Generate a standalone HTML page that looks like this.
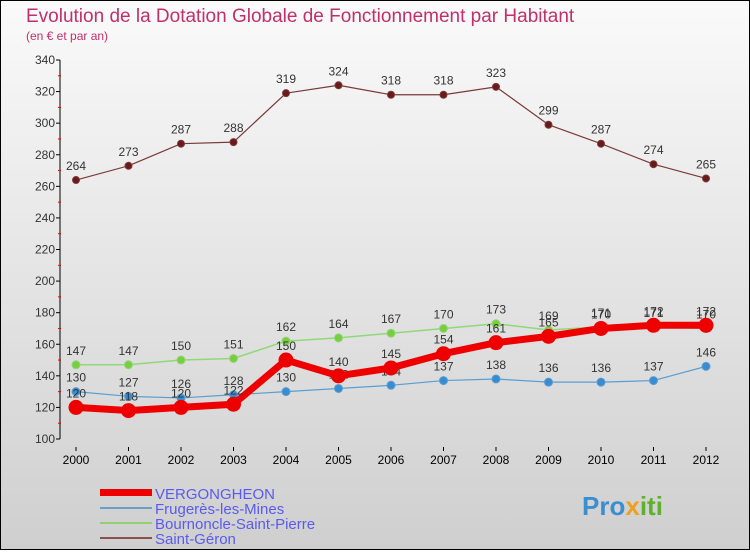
<!DOCTYPE html>
<html><head><meta charset="utf-8"><style>
html,body{margin:0;padding:0;}
body{width:750px;height:550px;overflow:hidden;font-family:"Liberation Sans",sans-serif;}
</style></head><body>
<svg id="chart" width="750" height="550" xmlns="http://www.w3.org/2000/svg">
<defs><linearGradient id="bg" x1="0" y1="0" x2="0" y2="1"><stop offset="0" stop-color="#fafafa"/><stop offset="1" stop-color="#cfcfcf"/></linearGradient></defs>
<rect x="0.5" y="0.5" width="749" height="549" fill="url(#bg)" stroke="#000"/>
<text x="26" y="22" font-size="19" fill="#c0306a">Evolution de la Dotation Globale de Fonctionnement par Habitant</text>
<text x="26" y="40" font-size="12" fill="#c0306a">(en € et par an)</text>
<g id="axes"></g><g id="series"></g>
<g font-size="15" fill="#5a5af0">
<rect x="100" y="489" width="52" height="7" fill="#e00"/>
<text x="155" y="499">VERGONGHEON</text>
<rect x="100" y="507" width="52" height="2" fill="#6aa0c8"/>
<text x="155" y="514">Frugerès-les-Mines</text>
<rect x="100" y="522" width="52" height="2" fill="#8fd070"/>
<text x="155" y="529">Bournoncle-Saint-Pierre</text>
<rect x="100" y="537" width="52" height="2" fill="#8a5050"/>
<text x="155" y="544">Saint-Géron</text>
</g>
<text x="582" y="515" font-size="26" font-weight="bold" fill="#3a8fd0">Pro<tspan fill="#f0a020">x</tspan><tspan fill="#60b030">iti</tspan></text>
</svg>
<script>
const years=[2000,2001,2002,2003,2004,2005,2006,2007,2008,2009,2010,2011,2012];
const vergongheon=[120,118,120,122,150,140,145,154,161,165,170,172,172];
const frugeres=[130,127,126,128,130,132,134,137,138,136,136,137,146];
const bournoncle=[147,147,150,151,162,164,167,170,173,169,171,171,170];
const saintGeron=[264,273,287,288,319,324,318,318,323,299,287,274,265];
const yTicks=[100,120,140,160,180,200,220,240,260,280,300,320,340];
const NS="http://www.w3.org/2000/svg";
const xs=i=>76+i*52.5;
const ys=v=>439-(v-100)*(379/240);
function mk(t,a,p){const e=document.createElementNS(NS,t);for(const k in a)e.setAttribute(k,a[k]);p.appendChild(e);return e;}
const ax=document.getElementById('axes');
let e=mk('line',{x1:60,y1:ys(340),x2:60,y2:ys(100),stroke:'#000'},ax);


yTicks.forEach(v=>{
 let t=mk('line',{x1:56,x2:60,y1:ys(v),y2:ys(v),stroke:'#000'},ax);
 
 
 if(v<340){let m=mk('line',{x1:58,x2:61,y1:ys(v+10),y2:ys(v+10),stroke:'#e00'},ax);
 
 }
 let l=mk('text',{x:55,y:ys(v)+4,'text-anchor':'end','font-size':12,fill:'#333'},ax);l.textContent=v;
 
 
});
years.forEach((y,i)=>{
 let t=mk('line',{x1:xs(i),x2:xs(i),y1:447,y2:451,stroke:'#000'},ax);
 
 
 let l=mk('text',{x:xs(i),y:464,'text-anchor':'middle','font-size':12,fill:'#000'},ax);l.textContent=y;
 
 
});
const sg=document.getElementById('series');
function draw(name,data,color,w,r,dot){
 const g=mk('g',{},sg);
 
 
 const pl=mk('polyline',{points:data.map((v,i)=>xs(i)+','+ys(v)).join(' '),fill:'none',stroke:color,'stroke-width':w,'stroke-linejoin':'round'},g);
 
 
 data.forEach((v,i)=>{
  const c=mk('circle',{cx:xs(i),cy:ys(v),r:r,fill:dot,stroke:color,'stroke-width':1},g);
  
  
  const t=mk('text',{x:xs(i),y:ys(v)-10,'text-anchor':'middle','font-size':12,fill:'#333'},g);t.textContent=v;
  
  
 });
}
draw('saint-geron',saintGeron,'#7a3a3a',1.2,3.5,'#6a1a1a');
draw('bournoncle',bournoncle,'#90d878',1.5,4,'#7acc40');
draw('frugeres',frugeres,'#5a9ed0',1.2,4,'#3a8cd0');
draw('vergongheon',vergongheon,'#e00',7,7,'#e00');
</script>
</body></html>
